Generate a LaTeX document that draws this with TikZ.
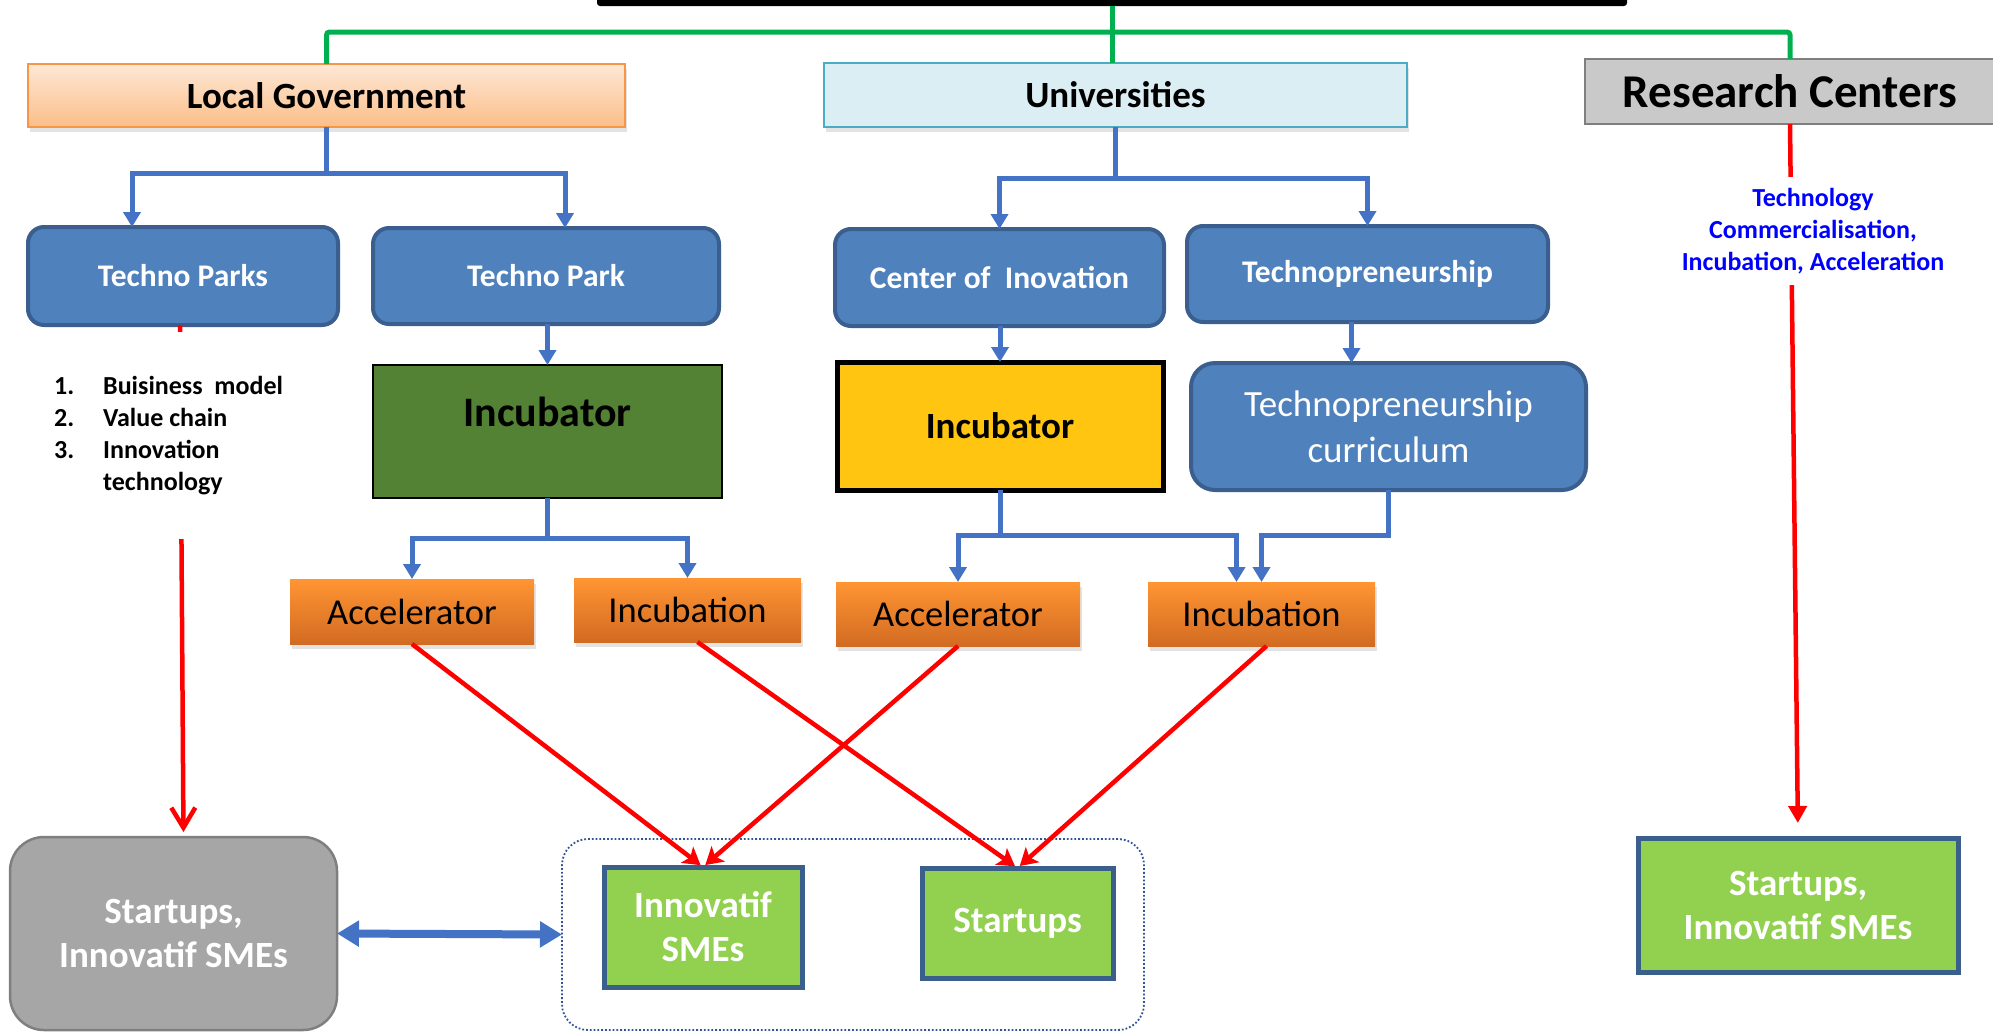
\documentclass[tikz,border=0pt]{standalone}
\usepackage{fontspec}
\setmainfont{Carlito}
\usetikzlibrary{arrows.meta,shadows,calc}
\definecolor{boxblue}{HTML}{4F81BD}
\definecolor{boxblueline}{HTML}{3A5F8F}
\definecolor{conblue}{HTML}{4472C4}
\definecolor{lgreen}{HTML}{00B050}
\definecolor{peachtop}{HTML}{FEE8D6}
\definecolor{peachbot}{HTML}{FBBE88}
\definecolor{peachline}{HTML}{F79646}
\definecolor{unifill}{HTML}{DAEEF3}
\definecolor{uniline}{HTML}{4BACC6}
\definecolor{rcfill}{HTML}{C9C9C9}
\definecolor{rcline}{HTML}{7F7F7F}
\definecolor{incgreen}{HTML}{548235}
\definecolor{incyellow}{HTML}{FFC511}
\definecolor{orgtop}{HTML}{FF9533}
\definecolor{orgbot}{HTML}{D26B22}
\definecolor{grayfill}{HTML}{A6A6A6}
\definecolor{grayline}{HTML}{7F7F7F}
\definecolor{smegreen}{HTML}{92D050}
\definecolor{smeline}{HTML}{3A5F8B}
\definecolor{dotblue}{HTML}{2F5597}
\definecolor{txtblue}{HTML}{0000FF}
\newcommand{\setfs}[2]{\fontsize{#1}{#2}\selectfont}
\begin{document}
\begin{tikzpicture}[x=1pt,y=-1pt,
  box/.style={inner sep=0pt, outer sep=0pt, align=center},
  softshadow/.style={drop shadow={shadow xshift=2pt, shadow yshift=-5pt, opacity=0.22}},
  hdr/.style={box, softshadow, font=\setfs{37}{45}\bfseries},
  bbox/.style={box, fill=boxblue, draw=boxblueline, line width=4pt, rounded corners=16pt, text=white, font=\setfs{31.5}{38}\bfseries},
  obox/.style={box, softshadow, top color=orgtop, bottom color=orgbot, font=\setfs{36.5}{44}},
  gbox/.style={box, fill=smegreen, draw=smeline, line width=5pt, text=white, font=\setfs{37}{44}\bfseries},
  gline/.style={draw=lgreen, line width=5pt, rounded corners=3pt},
  barrow/.style={draw=conblue, line width=5pt, -{Triangle[length=15pt,width=17pt]}},
  rline/.style={draw=red, line width=4.5pt},
  rdiag/.style={rline, -{Stealth[length=17pt,width=20pt,inset=4pt]}, shorten >=3pt},
  ftext/.style={inner sep=0pt, font=\setfs{26}{32}\bfseries, align=left}
]
\useasboundingbox (0,0) rectangle (1993,1031);

% top bar
\node[box, fill=black, rounded corners=3pt, minimum width=1030pt, minimum height=22pt] (top) at (1112,-5) {};

% header boxes
\node[hdr, top color=peachtop, bottom color=peachbot, draw=peachline, line width=2pt, minimum width=597pt, minimum height=63pt] (lg) at (326.5,95.5) {Local Government};
\node[hdr, fill=unifill, draw=uniline, line width=2pt, minimum width=583pt, minimum height=64pt] (uni) at (1115.5,95) {Universities};
\node[box, fill=rcfill, draw=rcline, line width=2pt, font=\setfs{47}{56}\bfseries, minimum width=410pt, minimum height=65pt] (rc) at (1790,91.5) {Research Centers};

% green tree
\coordinate (gj) at (1113,32);
\draw[gline] (top.south) -- (top.south |- uni.north);
\draw[gline] (lg.north) |- (gj) -| (rc.north);

% second row
\node[bbox, minimum width=310pt, minimum height=98pt] (tps) at (183,276) {Techno Parks};
\node[bbox, minimum width=346pt, minimum height=96pt] (tp) at (546,276) {Techno Park};
\node[bbox, minimum width=329pt, minimum height=97pt] (coi) at (999.5,277.5) {Center of\ \ Inovation};
\node[bbox, minimum width=361pt, minimum height=96pt] (tpr) at (1367.5,274) {Technopreneurship};

% incubators
\node[box, fill=incgreen, draw=black, line width=2.5pt, minimum width=349pt, minimum height=133pt,
  label={[font=\setfs{42}{50}\bfseries, anchor=center, yshift=-47pt]north:Incubator}] (inc1) at (547.5,431.5) {};
\node[box, fill=incyellow, draw=black, line width=5pt, font=\setfs{37}{45}\bfseries, minimum width=326pt, minimum height=128pt] (inc2) at (1000,426) {Incubator};
\node[box, fill=boxblue, draw=boxblueline, line width=4pt, rounded corners=24pt, text=white, font=\setfs{37}{46}, minimum width=395pt, minimum height=127pt] (tcur) at (1388.5,426.5) {Technopreneurship\\curriculum};

% orange boxes
\node[obox, minimum width=244pt, minimum height=65pt] (acc1) at (412,611.5) {Accelerator};
\node[obox, minimum width=227pt, minimum height=64pt] (incb1) at (687.5,610) {Incubation};
\node[obox, minimum width=244pt, minimum height=64pt] (acc2) at (958,614) {Accelerator};
\node[obox, minimum width=227pt, minimum height=64pt] (incb2) at (1261.5,614) {Incubation};

% bottom row
\node[box, fill=grayfill, draw=grayline, line width=2.5pt, rounded corners=34pt, text=white, font=\setfs{37}{44}\bfseries, minimum width=327pt, minimum height=193pt] (gray) at (173.5,933.5) {Startups,\\Innovatif SMEs};
\node[box, draw=dotblue, line width=1.8pt, dash pattern=on 1.8pt off 2pt, rounded corners=26pt, minimum width=582pt, minimum height=191pt] (grp) at (853,934.5) {};
\node[gbox, minimum width=198pt, minimum height=120pt] (sme) at (703,927) {Innovatif\\SMEs};
\node[gbox, minimum width=191pt, minimum height=110pt] (st) at (1017.5,923) {Startups};
\node[gbox, minimum width=320pt, minimum height=134pt] (rsme) at (1798,905) {Startups,\\Innovatif SMEs};

% blue connectors
\draw[barrow] (lg.south) -- ++(0,46) -| ([xshift=-51pt]tps.north);
\draw[barrow] (lg.south) -- ++(0,46) -| ([xshift=19pt]tp.north);
\draw[barrow] (tp.south -| inc1.north) -- (inc1.north);
\draw[barrow] (inc1.south) -- ++(0,40) -| (acc1.north);
\draw[barrow] (inc1.south) -- ++(0,40) -| (incb1.north);
\draw[barrow] (uni.south) -- ++(0,51) -| (coi.north);
\draw[barrow] (uni.south) -- ++(0,51) -| (tpr.north);
\draw[barrow] (coi.south -| inc2.north) -- (inc2.north);
\draw[barrow] ([xshift=-16pt]tpr.south) -- ([xshift=-16pt]tpr.south |- tcur.north);
\draw[barrow] (inc2.south) -- ++(0,45) -| (acc2.north);
\draw[barrow] (inc2.south) -- ++(0,45) -| ([xshift=-25pt]incb2.north);
\draw[barrow] (tcur.south) -- ++(0,45) -| (incb2.north);

% blue double arrow
\draw[draw=conblue, line width=8pt, {Triangle[length=22pt,width=25pt]}-{Triangle[length=22pt,width=25pt]}] (gray.east) -- (grp.west);

% red arrows
\draw[rdiag] (acc1.south) -- (sme.north);
\draw[rdiag] ([xshift=10pt]incb1.south) -- (st.north);
\draw[rdiag] (acc2.south) -- (sme.north);
\draw[rdiag] ([xshift=5pt]incb2.south) -- (st.north);

\draw[rline, -{Straight Barb[length=20pt,width=24pt]}, shorten >=5pt] ([xshift=-3pt]tps.south) -- ([xshift=10pt]gray.north);
\draw[rline, -{Triangle[length=17pt,width=18pt]}, shorten >=15pt] (rc.south) -- (rsme.north);

% text blocks (white backing hides the red line behind them)
\node[ftext, fill=white, inner xsep=6pt, inner ysep=44pt, anchor=west] (list) at (48,435.5)
  {\makebox[49pt][l]{1.}Buisiness\ \ model\\
   \makebox[49pt][l]{2.}Value chain\\
   \makebox[49pt][l]{3.}Innovation\\
   \makebox[49pt][l]{}technology};
\node[ftext, align=center, text=txtblue, fill=white, inner xsep=6pt, inner ysep=11pt] (rctext) at (1813,231)
  {Technology\\Commercialisation,\\Incubation, Acceleration};
\end{tikzpicture}
\end{document}
